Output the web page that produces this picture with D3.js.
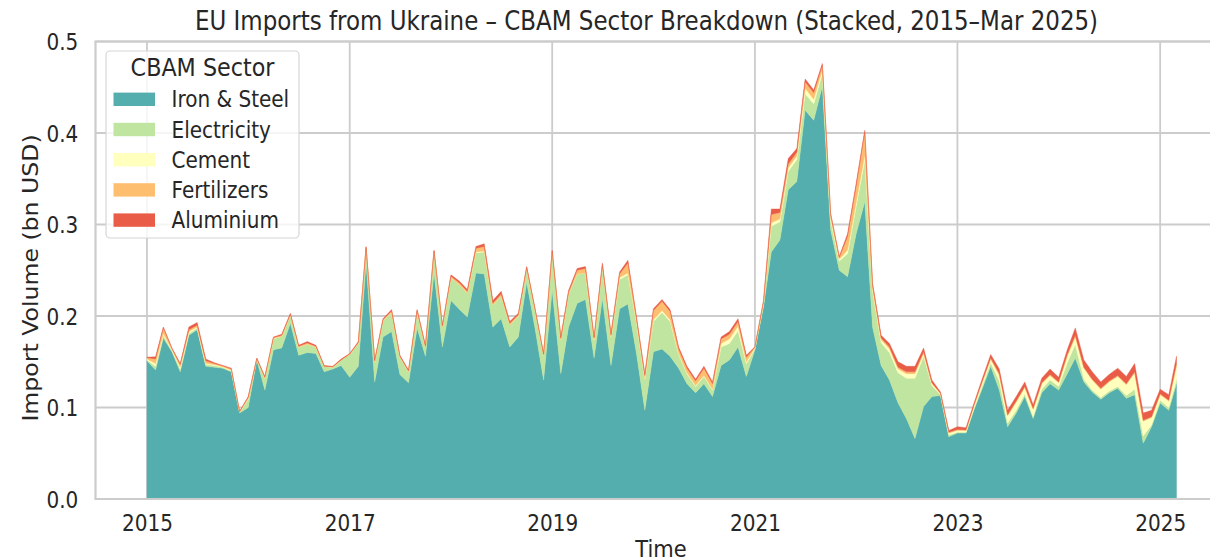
<!DOCTYPE html>
<html>
<head>
<meta charset="utf-8">
<script src="https://cdn.jsdelivr.net/npm/d3@7"></script>
<style>
  html, body { margin: 0; padding: 0; background: #fff; }
  svg { display: block; font-family: "DejaVu Sans", sans-serif; }
</style>
</head>
<body>
<svg id="chart" width="1210" height="558"></svg>
<script>
// ---- DATA ----
const months = d3.timeMonth.range(new Date(2015, 0, 1), new Date(2025, 3, 1)); // Jan 2015 .. Mar 2025
const sectors = ["Iron & Steel", "Electricity", "Cement", "Fertilizers", "Aluminium"];
const sectorColors = ["#54aead", "#bfe5a0", "#ffffbe", "#fdbf6f", "#e95c47"];
const yTicks = [0.0, 0.1, 0.2, 0.3, 0.4, 0.5];
const xTickYears = [2015, 2017, 2019, 2021, 2023, 2025];

const ironSteel = [
  .151,.141,.176,.161,.139,.179,.185,.145,.144,.143,.139,.094,
  .100,.152,.119,.163,.165,.192,.157,.160,.159,.139,.142,.146,
  .133,.145,.258,.128,.177,.183,.136,.127,.187,.156,.247,.166,
  .217,.207,.199,.247,.246,.188,.197,.166,.177,.237,.185,.130,
  .228,.137,.188,.214,.218,.154,.219,.146,.208,.213,.159,.097,
  .161,.164,.156,.143,.126,.116,.126,.112,.146,.152,.166,.134,
  .163,.210,.270,.283,.338,.347,.425,.414,.451,.294,.250,.243,
  .290,.325,.188,.146,.130,.105,.088,.066,.101,.112,.113,.068,
  .072,.072,.097,.121,.145,.119,.079,.094,.112,.088,.116,.126,
  .119,.137,.154,.128,.117,.109,.116,.121,.110,.114,.061,.079,
  .105,.097,.126
];
const electricity = [
  .001,.004,.003,.001,.003,.002,.002,.002,.002,.001,.001,.001,
  .009,.001,.013,.012,.013,.009,.009,.009,.007,.006,.002,.006,
  .025,.025,.016,.022,.018,.021,.019,.012,.018,.010,.023,.022,
  .025,.027,.026,.022,.024,.024,.025,.024,.023,.015,.020,.027,
  .042,.037,.036,.032,.029,.020,.035,.031,.032,.032,.034,.034,
  .033,.040,.038,.015,.011,.007,.008,.007,.020,.018,.018,.014,
  .001,.003,.028,.020,.020,.024,.018,.018,.014,.010,.010,.025,
  .030,.045,.040,.025,.030,.033,.044,.066,.055,.012,.001,.002,
  .001,.001,.001,.003,.004,.010,.004,.003,.003,.002,.004,.004,
  .004,.012,.015,.003,.002,.002,.002,.002,.003,.006,.008,.002,
  .003,.003,.005
];
const cement = [
  .001,.003,.002,.001,.002,.002,.001,.001,.001,.0005,.001,0,
  .001,0,0,.0005,0,0,0,0,0,0,0,0,
  0,0,0,0,0,0,0,0,0,0,0,0,
  0,0,0,.001,.001,0,0,0,0,0,0,0,
  0,0,0,0,0,0,0,0,.002,.002,.001,.001,
  .002,.002,.002,.001,.001,.001,.001,.001,.004,.005,.005,.002,
  .001,.001,.004,.003,.004,.004,.006,.005,.004,.003,.002,.004,
  .004,.006,.002,.003,.004,.004,.005,.005,.003,.002,.001,.002,
  .002,.002,.003,.004,.004,.006,.008,.009,.007,.008,.006,.005,
  .004,.007,.008,.012,.011,.009,.010,.011,.012,.018,.016,.008,
  .006,.007,.015
];
const fertilizers = [
  .0015,.005,.006,.0015,.003,.002,.002,.003,.001,.001,.001,.0005,
  .001,.0005,.001,.001,.001,.001,.001,.0015,.001,0,.0005,0,
  .0005,.001,.001,.001,.001,.0015,.001,.001,.001,.001,.001,.001,
  .0015,.002,.002,.004,.005,.002,.002,.002,.0015,.001,.001,.001,
  .001,.0015,.002,.004,.005,.002,.002,.002,.004,.011,.003,.003,
  .010,.010,.009,.005,.005,.005,.008,.006,.005,.005,.005,.005,
  .001,.002,.009,.007,.004,.004,.007,.007,.005,.004,.002,.015,
  .018,.025,.004,.002,.002,.002,.002,.002,.002,.001,.0005,.001,
  .001,.0005,.001,.001,.001,.002,.001,.001,.001,.001,.001,.001,
  .001,.002,.002,.001,.001,.001,.001,.001,.001,.001,.001,.001,
  .001,.001,.002
];
const aluminium = [
  .0005,.0025,.001,.0005,.001,.003,.003,.002,.001,.0005,.001,.0005,
  .001,.0005,.001,.0005,.001,.001,.001,.0015,.001,.001,.0005,.001,
  .0005,.001,.001,.001,.001,.0015,.001,.001,.001,.001,.001,.001,
  .0015,.002,.002,.002,.003,.003,.003,.002,.0015,.001,.001,.001,
  .001,.0015,.002,.002,.002,.001,.002,.002,.002,.003,.002,.002,
  .002,.002,.002,.002,.002,.002,.002,.002,.002,.003,.003,.002,
  .0005,.001,.006,.004,.006,.004,.003,.003,.002,.001,.001,.003,
  .003,.002,.002,.003,.004,.006,.006,.006,.004,.003,.0015,.002,
  .003,.0025,.002,.003,.004,.005,.005,.005,.005,.004,.005,.006,
  .005,.005,.008,.008,.008,.007,.007,.008,.008,.009,.008,.007,
  .005,.006,.008
];

// ---- BUILD TABLE ----
const seriesArrays = [ironSteel, electricity, cement, fertilizers, aluminium];
const table = months.map((m, i) => {
  const row = { date: m };
  sectors.forEach((s, k) => { row[s] = seriesArrays[k][i]; });
  return row;
});

// ---- LAYOUT ----
const svg = d3.select("#chart");
const W = 1210, H = 558;
const SQ = 0.89; // horizontal squeeze of the reference's glyphs
const plotLeft = 95.5, plotTop = 41.5, plotBottom = 499, plotRight = 1228;
const first = months[0], last = months[months.length - 1];
const span = last - first;
const xDomain = [new Date(+first - 0.05 * span), new Date(+last + 0.05 * span)];
const x = d3.scaleTime().domain(xDomain).range([plotLeft, plotRight]);
const y = d3.scaleLinear().domain([0, 0.5]).range([plotBottom, plotTop]);

const gridColor = "#cccccc";
const textColor = "#262626";

function sqText(parent, px, py, size, anchor, str) {
  return parent.append("text")
    .attr("transform", `translate(${px},${py}) scale(${SQ},1)`)
    .attr("text-anchor", anchor).attr("fill", textColor)
    .style("font-size", size + "px").text(str);
}

// grid
const grid = svg.append("g");
grid.selectAll("line.h").data(yTicks).join("line")
  .attr("x1", plotLeft).attr("x2", plotRight)
  .attr("y1", d => y(d)).attr("y2", d => y(d))
  .attr("stroke", gridColor).attr("stroke-width", 1.8);
grid.selectAll("line.v").data(xTickYears).join("line")
  .attr("x1", d => x(new Date(d, 0, 1))).attr("x2", d => x(new Date(d, 0, 1)))
  .attr("y1", plotTop).attr("y2", plotBottom)
  .attr("stroke", gridColor).attr("stroke-width", 1.8);

// stacked areas
const stack = d3.stack().keys(sectors);
const layers = stack(table);
const area = d3.area()
  .x(d => x(d.data.date))
  .y0(d => y(d[0]))
  .y1(d => y(d[1]))
  .curve(d3.curveLinear);
svg.append("g").selectAll("path").data(layers).join("path")
  .attr("d", area)
  .attr("fill", (d, i) => sectorColors[i])
  .attr("stroke", (d, i) => sectorColors[i])
  .attr("stroke-width", 0.4);

// spines
svg.append("line").attr("x1", plotLeft).attr("x2", plotLeft).attr("y1", plotTop).attr("y2", plotBottom)
  .attr("stroke", gridColor).attr("stroke-width", 2.2);
svg.append("line").attr("x1", plotLeft - 1).attr("x2", W + 5).attr("y1", plotBottom).attr("y2", plotBottom)
  .attr("stroke", gridColor).attr("stroke-width", 2.2);
svg.append("line").attr("x1", plotLeft - 1).attr("x2", W + 5).attr("y1", plotTop).attr("y2", plotTop)
  .attr("stroke", gridColor).attr("stroke-width", 2.2);

// axes (no tick marks)
const xAxis = d3.axisBottom(x)
  .tickValues(xTickYears.map(yy => new Date(yy, 0, 1)))
  .tickFormat(d3.timeFormat("%Y"))
  .tickSize(0).tickPadding(0);
const gx = svg.append("g").attr("transform", `translate(0,${plotBottom})`).call(xAxis);
gx.select(".domain").remove();
gx.selectAll("text")
  .attr("y", null).attr("dy", null)
  .attr("transform", `translate(0,32.3) scale(${SQ},1)`)
  .attr("fill", textColor).style("font-size", "22.5px").style("font-family", "DejaVu Sans");

const yAxis = d3.axisLeft(y).tickValues(yTicks).tickFormat(d3.format(".1f")).tickSize(0).tickPadding(0);
const gy = svg.append("g").attr("transform", `translate(${plotLeft},0)`).call(yAxis);
gy.select(".domain").remove();
gy.selectAll("text")
  .attr("x", null).attr("dy", null)
  .attr("transform", `translate(-17.2,8.2) scale(${SQ},1)`)
  .attr("fill", textColor).style("font-size", "22.5px").style("font-family", "DejaVu Sans");

// labels
sqText(svg, 661, 556.5, 23.6, "middle", "Time");
svg.append("text")
  .attr("transform", `translate(37.5,278) scale(${SQ},1) rotate(-90)`)
  .attr("text-anchor", "middle").attr("fill", textColor)
  .style("font-size", "23.6px").text("Import Volume (bn USD)");
sqText(svg, 646.5, 30, 25.8, "middle", "EU Imports from Ukraine – CBAM Sector Breakdown (Stacked, 2015–Mar 2025)");

// legend
const lg = svg.append("g");
lg.append("rect").attr("x", 106).attr("y", 51).attr("width", 193).attr("height", 187)
  .attr("rx", 4).attr("fill", "white").attr("fill-opacity", 0.8)
  .attr("stroke", "#d6d6d6").attr("stroke-width", 1.2);
sqText(lg, 202.5, 75.5, 25, "middle", "CBAM Sector");
const items = lg.selectAll("g.item").data(sectors).join("g")
  .attr("transform", (d, i) => `translate(0,${99.3 + i * 30.2})`);
items.append("rect").attr("x", 113.5).attr("y", -6.7).attr("width", 41.5).attr("height", 13.4)
  .attr("fill", (d, i) => sectorColors[i]);
items.each(function(d) { sqText(d3.select(this), 171.5, 8, 22.5, "start", d); });
</script>
</body>
</html>
